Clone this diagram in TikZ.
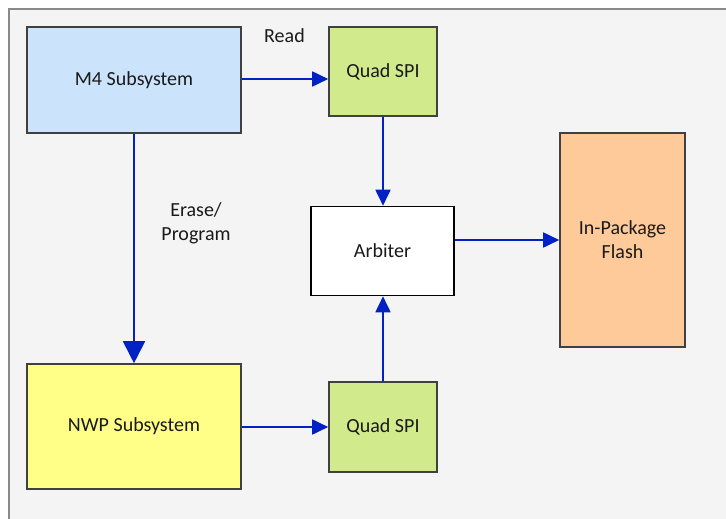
\documentclass[tikz,border=0pt]{standalone}
\usepackage{fontspec}
\setmainfont{Carlito}
\usetikzlibrary{arrows.meta}
\definecolor{bgc}{HTML}{F4F4F4}
\definecolor{framec}{HTML}{8A8A8A}
\definecolor{edgec}{HTML}{404040}
\definecolor{arrc}{HTML}{0022C4}
\definecolor{m4c}{HTML}{CCE4FB}
\definecolor{qspic}{HTML}{D1EA8C}
\definecolor{flashc}{HTML}{FFCA99}
\definecolor{nwpc}{HTML}{FFFF88}
\definecolor{txtc}{HTML}{1A1A1A}
\tikzset{
  blockbox/.style={draw=edgec, line width=1.6pt, text=txtc, align=center, inner sep=0pt,
    font=\fontsize{20}{24}\selectfont},
  conn/.style={draw=arrc, line width=1.8pt, -{Triangle[length=16pt,width=15pt]}},
  bigconn/.style={draw=arrc, line width=1.8pt, -{Triangle[length=22pt,width=22pt]}},
  lbl/.style={text=txtc, align=center, font=\fontsize{20}{24}\selectfont, inner sep=0pt}
}
\begin{document}
\begin{tikzpicture}[x=1pt,y=-1pt]
\useasboundingbox (0,0) rectangle (726,519);
\fill[white] (0,0) rectangle (726,519);
\fill[bgc] (9,9) rectangle (726,519);
\draw[framec, line width=1.5pt] (9,519) -- (9,9) -- (726,9);
% nodes
\node[blockbox, fill=m4c, minimum width=214pt, minimum height=106pt] (m4) at (134,80) {M4 Subsystem};
\node[blockbox, fill=qspic, minimum width=108pt, minimum height=89pt] (q1) at (383,71.5) {Quad SPI};
\node[blockbox, fill=white, draw=black, minimum width=143pt, minimum height=89pt] (arb) at (382.5,251) {Arbiter};
\node[blockbox, fill=flashc, minimum width=125pt, minimum height=214pt] (flash) at (622.5,240) {In-Package\\Flash};
\node[blockbox, fill=nwpc, minimum width=214pt, minimum height=125pt] (nwp) at (134,426.5) {NWP Subsystem};
\node[blockbox, fill=qspic, minimum width=108pt, minimum height=90pt] (q2) at (383,427) {Quad SPI};
% labels
\node[lbl] (read) at (284.5,36) {Read};
\node[lbl] (erase) at (196,223) {Erase/\\Program};
% connectors
\draw[conn] (m4.east |- 0,79) -- (q1.west |- 0,79);
\draw[conn] (q1.south) -- (arb.north -| q1.south);
\draw[bigconn] (m4.south) -- (nwp.north);
\draw[conn] (q2.north) -- (arb.south -| q2.north);
\draw[conn] (arb.east |- 0,240) -- (flash.west |- 0,240);
\draw[conn] (nwp.east |- 0,427) -- (q2.west |- 0,427);
\end{tikzpicture}
\end{document}
